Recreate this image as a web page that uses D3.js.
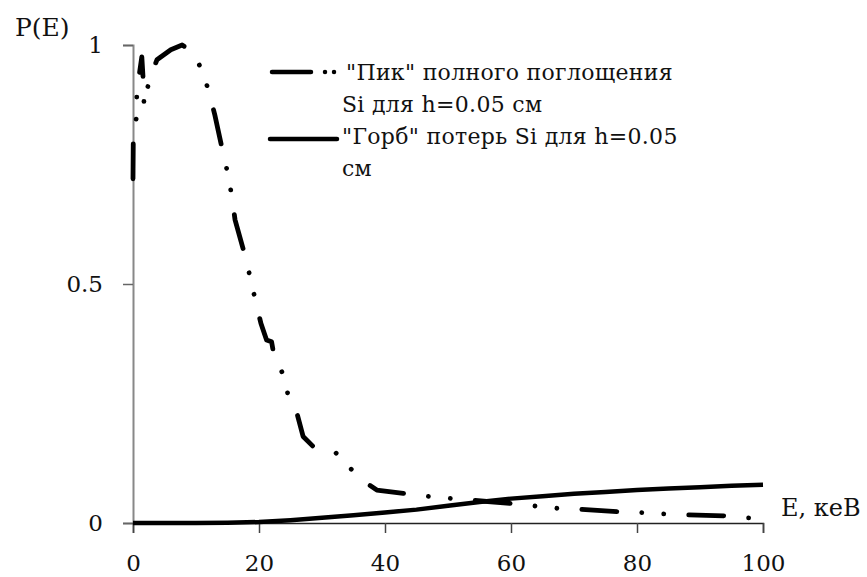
<!DOCTYPE html>
<html>
<head>
<meta charset="utf-8">
<script src="https://cdn.jsdelivr.net/npm/d3@7"></script>
<style>
  body { margin: 0; background: #fff; }
  svg text { font-family: "DejaVu Serif", serif; fill: #111; }
</style>
</head>
<body>
<svg id="chart"></svg>
<script>
// "Пик" полного поглощения (dash-dot-dot line)
const peakE = [0, 0.05, 0.6, 0.6, 1.4, 1.65, 1.75, 2.6, 3.8, 6, 7.8, 9.5, 11, 12.1, 13, 14.3, 15.1, 15.7, 16.2, 17.9,
  18.7, 19.5, 20.3, 21.2, 22.0, 22.5, 24, 24.7, 26.1, 27.0, 28.6, 32.1, 34.6, 37.1, 38.7, 42.9, 46.6, 50,
  53.5, 59.8, 63.5, 67.1, 70.7, 76.8, 80.6, 84.1, 87.6, 94.1, 97.6, 99];
const peakP = [0.72, 0.81, 0.853, 0.902, 0.975, 0.92, 0.875, 0.928, 0.969, 0.99, 1.0, 0.985, 0.946, 0.90, 0.853, 0.774,
  0.728, 0.682, 0.634, 0.554, 0.508, 0.462, 0.418, 0.383, 0.379, 0.341, 0.308, 0.261, 0.226, 0.181, 0.160,
  0.148, 0.113, 0.083, 0.069, 0.062, 0.056, 0.052, 0.048, 0.041, 0.036, 0.031, 0.029, 0.024, 0.022, 0.019,
  0.017, 0.015, 0.011, 0.010];

// "Горб" потерь (solid line)
const humpE = [0, 10, 15, 20, 25, 30, 35, 40, 45, 50, 55, 60, 65, 70, 75, 80, 85, 90, 95, 100];
const humpP = [0, 0, 0.0005, 0.002, 0.006, 0.011, 0.016, 0.022, 0.028, 0.036, 0.044, 0.051, 0.056, 0.061,
  0.065, 0.069, 0.072, 0.075, 0.078, 0.080];

const xTicks = [0, 20, 40, 60, 80, 100];
const yTicks = [0, 0.5, 1];
const legendLines = [
  ["\"Пик\" полного поглощения", "Si для h=0.05 см"],
  ["\"Горб\" потерь  Si для h=0.05", "см"]
];

const width = 867, height = 577;
const svg = d3.select("#chart").attr("width", width).attr("height", height);

const x = d3.scaleLinear().domain([0, 100]).range([133, 763]);
const y = d3.scaleLinear().domain([0, 1]).range([523, 45]);

// axes
const yAxis = svg.append("g")
  .attr("transform", `translate(${x(0)},0)`)
  .call(d3.axisLeft(y).tickValues(yTicks).tickSize(10).tickPadding(20)
    .tickFormat(d => d === 0.5 ? "0.5" : d3.format("d")(d)));
yAxis.select(".domain").attr("stroke", "#888").attr("stroke-width", 2);
yAxis.selectAll(".tick line").attr("stroke", "#666").attr("stroke-width", 1.5);
yAxis.selectAll("text").style("font-size", "23px");

const xAxis = svg.append("g")
  .attr("transform", `translate(0,${y(0)})`)
  .call(d3.axisBottom(x).tickValues(xTicks).tickSize(10).tickPadding(22));
xAxis.select(".domain").attr("stroke", "#222").attr("stroke-width", 1.5);
xAxis.selectAll(".tick line").attr("stroke", "#444").attr("stroke-width", 1.5);
xAxis.selectAll("text").style("font-size", "23px");

// axis titles
svg.append("text").attr("x", 15).attr("y", 36).style("font-size", "25px").text("P(E)");
svg.append("text").attr("x", 781).attr("y", 516).style("font-size", "24px").text("E, кеВ");

const line = d3.line().x(d => x(d[0])).y(d => y(d[1]));

svg.append("path")
  .datum(humpE.map((e, i) => [e, humpP[i]]))
  .attr("d", line)
  .attr("fill", "none")
  .attr("stroke", "#000")
  .attr("stroke-width", 4.5)
  .attr("stroke-linejoin", "round");

svg.append("path")
  .datum(peakE.map((e, i) => [e, peakP[i]]))
  .attr("d", line)
  .attr("fill", "none")
  .attr("stroke", "#000")
  .attr("stroke-width", 4.8)
  .attr("stroke-linecap", "round")
  .attr("stroke-linejoin", "round")
  .attr("stroke-dasharray", "35,25,0.01,22,0.01,25");

// legend
const leg = svg.append("g");
leg.append("line")
  .attr("x1", 272).attr("x2", 336).attr("y1", 72).attr("y2", 72)
  .attr("stroke", "#000").attr("stroke-width", 4.5)
  .attr("stroke-linecap", "round")
  .attr("stroke-dasharray", "39,14,0.01,9,0.01,60");
leg.append("line")
  .attr("x1", 270).attr("x2", 337).attr("y1", 139).attr("y2", 139)
  .attr("stroke", "#000").attr("stroke-width", 4.5)
  .attr("stroke-linecap", "round");

legendLines.forEach((lines, i) => {
  lines.forEach((t, j) => {
    leg.append("text")
      .attr("x", i === 0 && j === 0 ? 346 : 342)
      .attr("y", 80 + i * 64 + j * 32)
      .style("font-size", "22px")
      .style("letter-spacing", "0.3px")
      .text(t);
  });
});
</script>
</body>
</html>
